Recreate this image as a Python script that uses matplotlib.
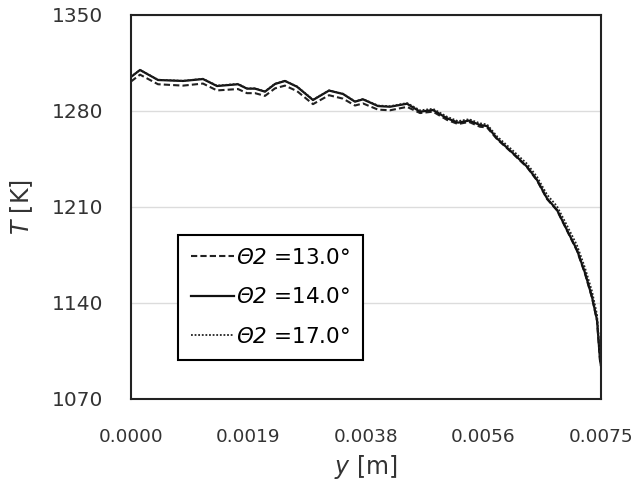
import matplotlib
matplotlib.use("Agg")
import matplotlib.pyplot as plt
import numpy as np

plt.rcParams['font.family'] = ['DejaVu Sans']
# math text only used for the italic symbols
plt.rcParams['mathtext.fontset'] = 'custom'
plt.rcParams['mathtext.rm'] = 'DejaVu Sans:italic'
plt.rcParams['mathtext.it'] = 'DejaVu Sans:italic'

# distance y [m]
y_pos = [0.0, 0.000144, 0.000431, 0.000830, 0.001149, 0.001372, 0.001707, 0.001851,
         0.001979, 0.002138, 0.002298, 0.002457, 0.002649, 0.002904, 0.003160, 0.003383,
         0.003574, 0.003702, 0.003941, 0.004133, 0.004404, 0.004612, 0.004819, 0.005043,
         0.005218, 0.005394, 0.005569, 0.005681, 0.005840, 0.006096, 0.006319, 0.006479,
         0.006638, 0.006798, 0.006957, 0.007117, 0.007245, 0.007356, 0.007436, 0.007484,
         0.0075]

# temperature [K] per theta2
T_13 = [1301.5, 1306.5, 1299.5, 1298.5, 1300.0, 1295.0, 1296.0, 1293.0, 1293.0, 1291.0,
        1296.5, 1298.5, 1294.5, 1285.0, 1291.5, 1289.0, 1284.0, 1285.5, 1281.0, 1280.5,
        1283.0, 1278.5, 1279.5, 1273.5, 1270.5, 1272.0, 1268.5, 1268.0, 1259.5, 1248.8,
        1239.0, 1229.3, 1215.8, 1207.5, 1192.8, 1178.0, 1161.2, 1143.8, 1127.0, 1098.0,
        1094.0]
T_14 = [1304.8, 1309.9, 1302.6, 1301.9, 1303.3, 1298.2, 1299.5, 1296.3, 1296.3, 1294.1,
        1299.7, 1301.9, 1297.7, 1288.0, 1294.9, 1292.4, 1286.8, 1288.5, 1283.6, 1283.1,
        1285.3, 1279.5, 1280.7, 1274.7, 1271.5, 1273.0, 1269.8, 1269.0, 1260.0, 1249.2,
        1239.4, 1229.7, 1216.3, 1207.8, 1193.2, 1178.6, 1161.9, 1144.4, 1127.6, 1098.4,
        1094.0]
T_17 = [1305.0, 1310.0, 1302.8, 1302.0, 1303.5, 1298.5, 1299.8, 1296.5, 1296.5, 1294.3,
        1299.9, 1302.0, 1297.9, 1288.3, 1295.0, 1292.6, 1287.0, 1288.7, 1284.0, 1283.5,
        1285.8, 1280.5, 1281.6, 1275.8, 1272.6, 1274.0, 1271.0, 1270.2, 1261.5, 1251.0,
        1241.5, 1232.0, 1219.0, 1210.5, 1196.5, 1182.0, 1165.5, 1148.5, 1131.5, 1102.0,
        1095.0]

x_ticks = [0.0, 0.001875, 0.00375, 0.005625, 0.0075]
x_labels = ["0.0000", "0.0019", "0.0038", "0.0056", "0.0075"]
y_ticks = [1070, 1140, 1210, 1280, 1350]

fig = plt.figure(figsize=(6.34, 4.98), dpi=100)
ax = fig.add_axes([0.2066, 0.1988, 0.7414, 0.7711])

ax.plot(y_pos, T_13, color='#222222', lw=1.5, ls=(0, (3, 1.5)),
        label=r'$Θ2$ =13.0°')
ax.plot(y_pos, T_14, color='#111111', lw=1.6, ls='-',
        label=r'$Θ2$ =14.0°')
ax.plot(y_pos, T_17, color='#222222', lw=1.3, ls=(0, (1, 1)),
        label=r'$Θ2$ =17.0°')

ax.set_xlim(0, 0.0075)
ax.set_ylim(1070, 1350)
ax.set_xticks(x_ticks)
ax.set_xticklabels(x_labels)
ax.set_yticks(y_ticks)
ax.tick_params(length=0, colors='#333333')
ax.tick_params(axis='y', pad=20, labelsize=14.5)
ax.tick_params(axis='x', pad=21, labelsize=13.3)
ax.grid(axis='y', color='#dcdcdc', lw=1)
ax.set_axisbelow(True)
for s in ax.spines.values():
    s.set_linewidth(1.5)
    s.set_color('#222222')

ax.set_xlabel(r'$y$ [m]', fontsize=17, color='#333333', labelpad=5)
ax.set_ylabel(r'$T$ [K]', fontsize=17, color='#333333', labelpad=12)

leg = ax.legend(loc='upper left', bbox_to_anchor=(0.1, 0.427), borderaxespad=0,
                fontsize=15.5, handlelength=2.0, handletextpad=0.1, fancybox=False,
                framealpha=1, edgecolor='black', labelspacing=0.9,
                borderpad=0.6)
leg.get_frame().set_linewidth(1.5)

fig.savefig("out.png", dpi=100)
